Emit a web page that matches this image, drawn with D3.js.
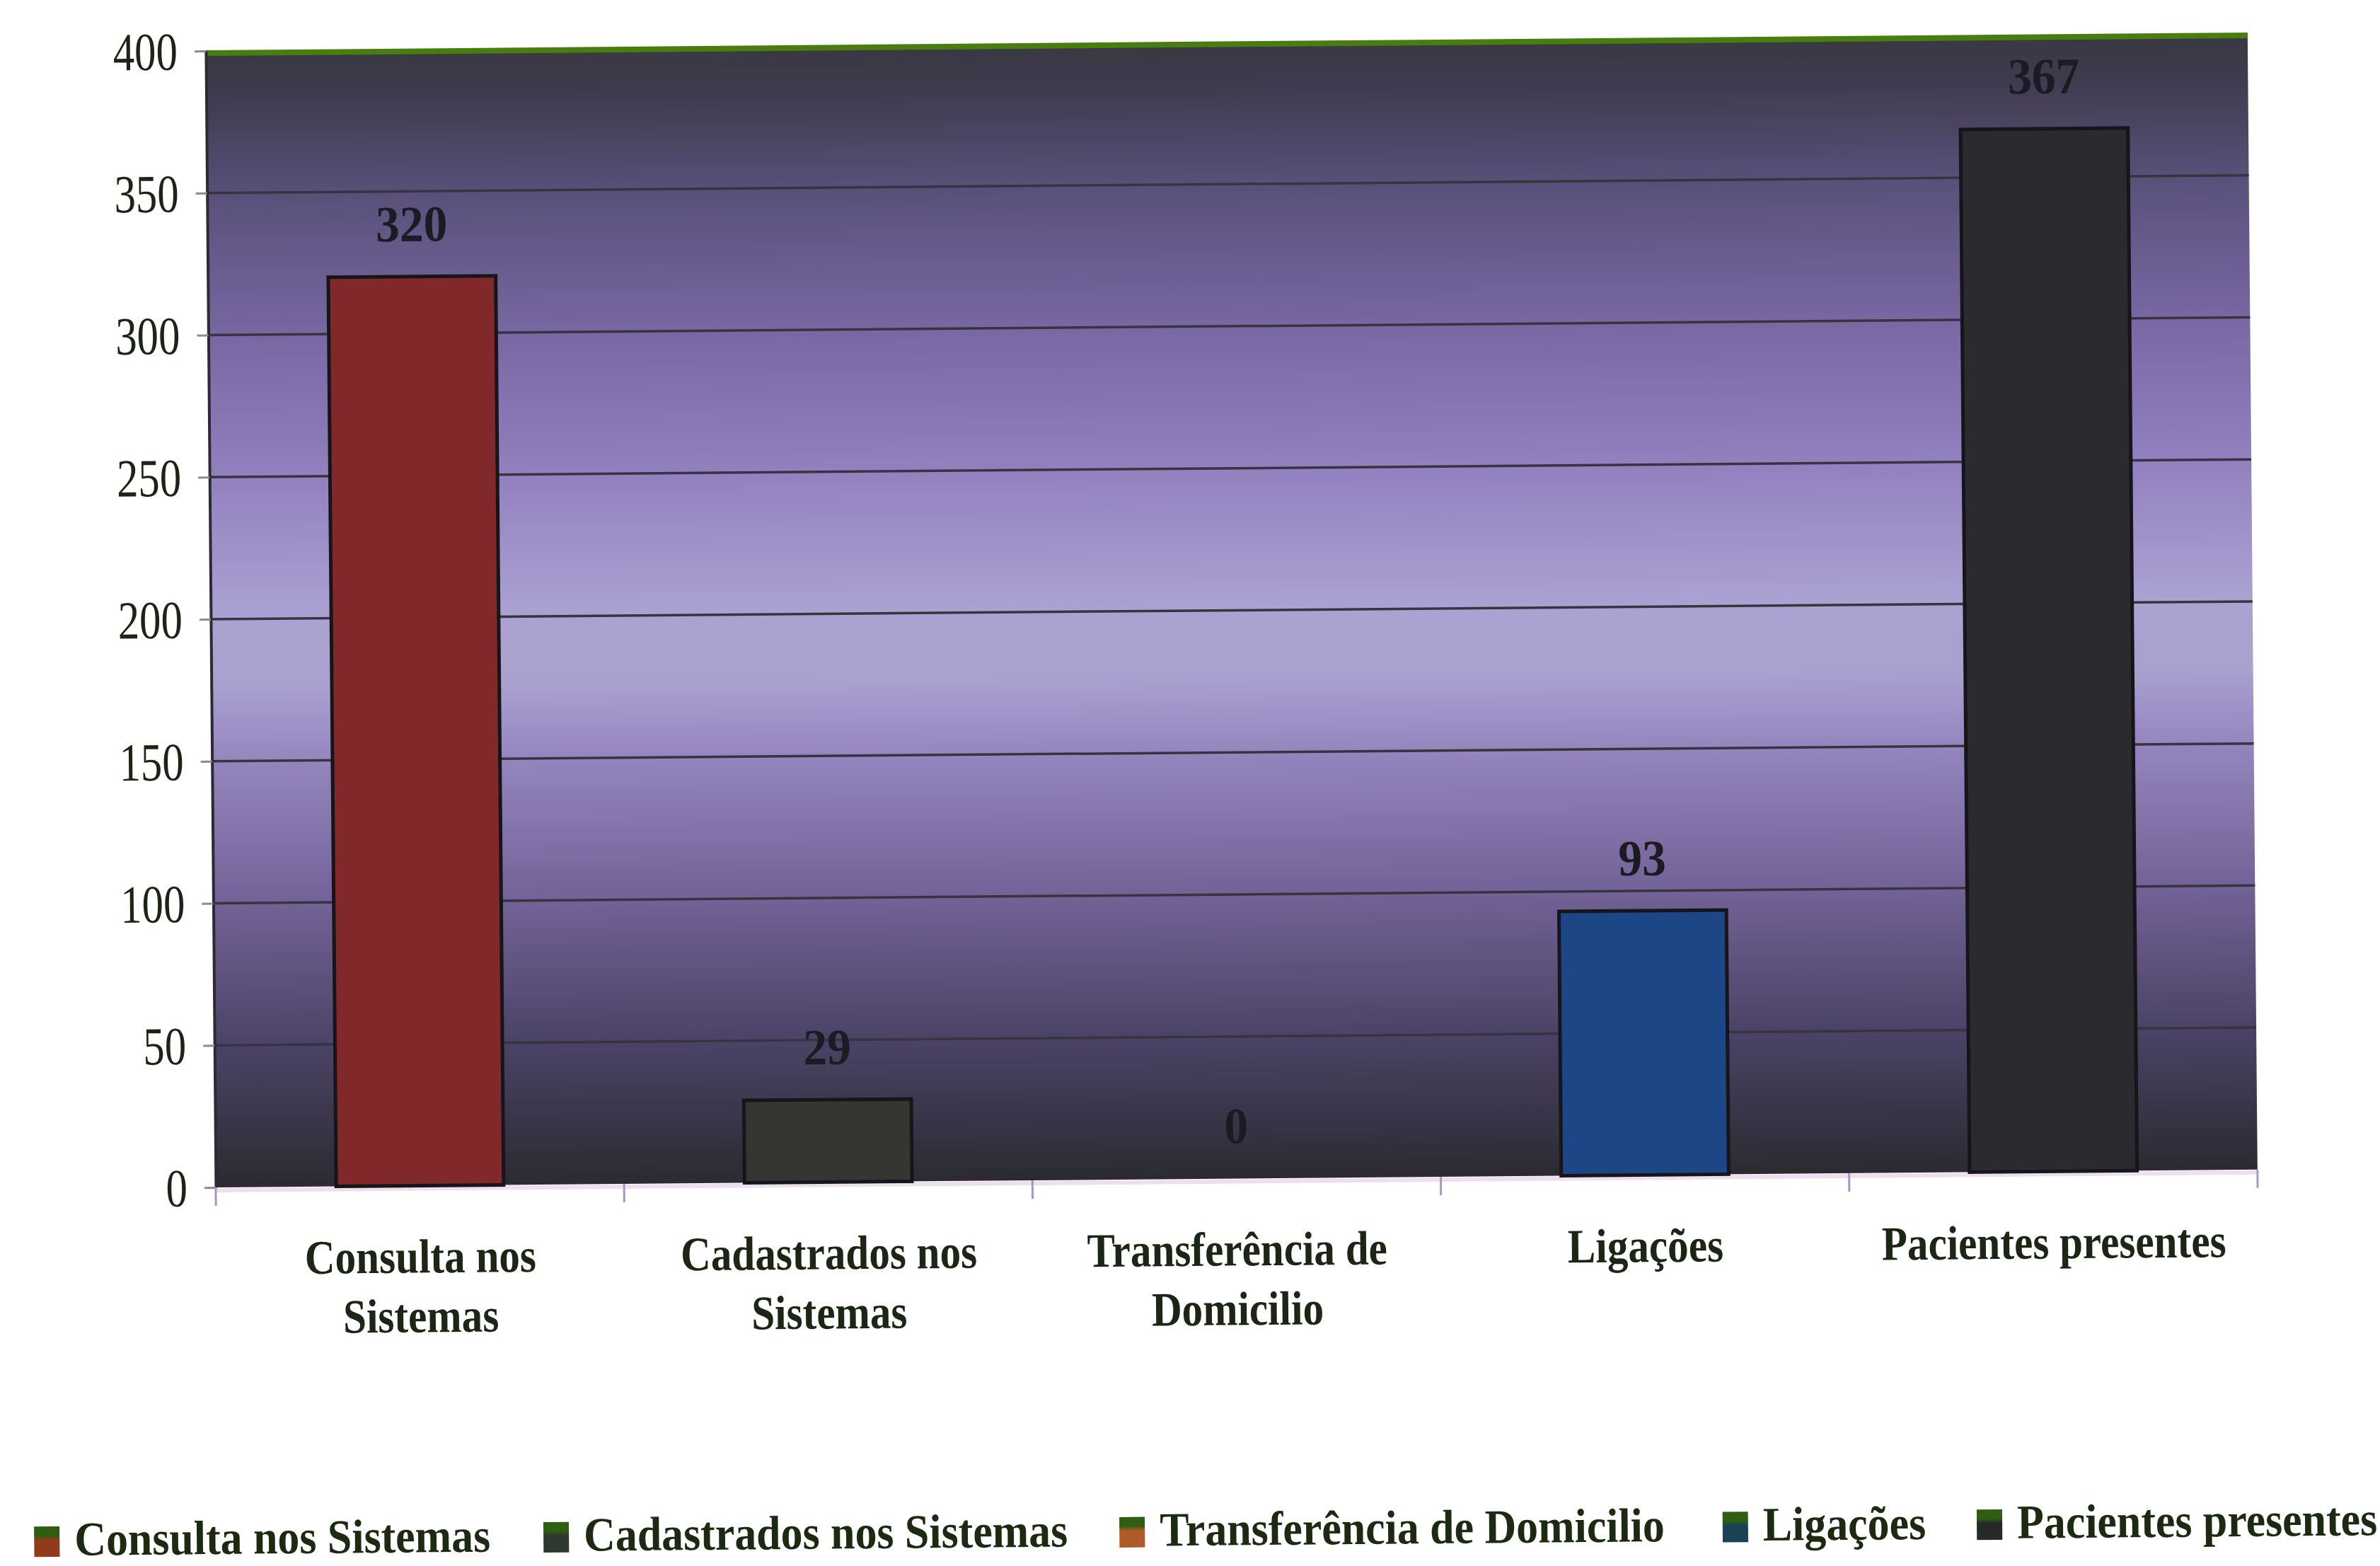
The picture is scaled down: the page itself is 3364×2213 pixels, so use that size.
<!DOCTYPE html>
<html><head><meta charset="utf-8">
<script src="https://cdn.jsdelivr.net/npm/d3@7"></script>
<style>html,body{margin:0;padding:0;background:#fff;} svg{display:block}</style>
</head><body>
<svg id="chart" width="3364" height="2213"></svg>
<script>
// ---- data ----
const categories = ["Consulta nos Sistemas", "Cadastrados nos Sistemas", "Transferência de Domicilio", "Ligações", "Pacientes presentes"];
const categoryLines = [["Consulta nos", "Sistemas"], ["Cadastrados nos", "Sistemas"], ["Transferência de", "Domicilio"], ["Ligações"], ["Pacientes presentes"]];
const values = [320, 29, 0, 93, 367];
const yTicks = [0, 50, 100, 150, 200, 250, 300, 350, 400];
const barColors = ["#80282a", "#343632", "#b0521e", "#1d4686", "#2a2a2f"];
const legendColors = ["#923a1e", "#2e3830", "#b05a28", "#1a4252", "#262a26"];

// ---- layout ----
const W = 3364, H = 2213;
const plot = {left: 300, right: 3186, top: 60, bottom: 1666};
const svg = d3.select("#chart");
const defs = svg.append("defs");

const bg = defs.append("linearGradient").attr("id", "bgGrad")
  .attr("x1", 0).attr("y1", 0).attr("x2", 0).attr("y2", 1);
[[0, "#393842"], [0.04, "#3f3b4e"], [0.125, "#585079"], [0.25, "#7867a2"], [0.375, "#9280bf"],
 [0.5, "#aba2d2"], [0.56, "#a9a0cf"], [0.625, "#9585bf"], [0.75, "#726296"], [0.875, "#4b4366"], [1, "#2b2a31"]]
  .forEach(([o, c]) => bg.append("stop").attr("offset", o).attr("stop-color", c));

legendColors.forEach((c, i) => {
  const g = defs.append("linearGradient").attr("id", "lg" + i).attr("x1", 0).attr("y1", 0).attr("x2", 0).attr("y2", 1);
  g.append("stop").attr("offset", 0).attr("stop-color", "#2f5e12");
  g.append("stop").attr("offset", 0.3).attr("stop-color", "#2f5e12");
  g.append("stop").attr("offset", 0.45).attr("stop-color", c);
  g.append("stop").attr("offset", 1).attr("stop-color", c);
});

const root = svg.append("g").attr("transform", `rotate(-0.5, ${W / 2}, ${H / 2})`);

const x = d3.scaleBand().domain(categories).range([plot.left, plot.right])
  .paddingInner(0.59).paddingOuter(0.295);
const y = d3.scaleLinear().domain([0, 400]).range([plot.bottom, plot.top]);

// plot background
root.append("rect").attr("x", plot.left).attr("y", plot.top)
  .attr("width", plot.right - plot.left).attr("height", plot.bottom - plot.top)
  .attr("fill", "url(#bgGrad)");

// gridlines
root.append("g").selectAll("line").data(yTicks.filter(t => t > 0 && t < 400)).join("line")
  .attr("x1", plot.left).attr("x2", plot.right)
  .attr("y1", d => y(d)).attr("y2", d => y(d))
  .attr("stroke", "#36343f").attr("stroke-width", 3.5);

// green top border
root.append("line").attr("x1", plot.left).attr("x2", plot.right)
  .attr("y1", plot.top + 3).attr("y2", plot.top + 3)
  .attr("stroke", "#4a7d10").attr("stroke-width", 8);

// left axis
const yAxis = root.append("g").attr("transform", `translate(${plot.left},0)`)
  .call(d3.axisLeft(y).tickValues(yTicks).tickSize(16).tickSizeOuter(0).tickFormat(d3.format("d")));
yAxis.select(".domain").attr("stroke", "#2c2b33").attr("stroke-width", 4);
yAxis.selectAll(".tick line").attr("stroke", "#8c8a92").attr("stroke-width", 3);
yAxis.selectAll(".tick text")
  .attr("x", null).attr("dy", "0.34em")
  .attr("transform", "translate(-40,0) scale(0.8,1)")
  .attr("text-anchor", "end")
  .attr("font-family", "'Liberation Serif', 'Times New Roman', serif")
  .attr("font-size", 76).attr("fill", "#1c2416");

// bottom axis: light line + boundary ticks
root.append("line").attr("x1", plot.left).attr("x2", plot.right)
  .attr("y1", plot.bottom + 4).attr("y2", plot.bottom + 4)
  .attr("stroke", "#ecdff0").attr("stroke-width", 6);
const bounds = categories.map(c => x(c) - x.step() * x.paddingInner() / 2).concat([plot.right]);
root.append("g").selectAll("line").data(bounds).join("line")
  .attr("x1", d => d).attr("x2", d => d)
  .attr("y1", plot.bottom).attr("y2", plot.bottom + 26)
  .attr("stroke", "#a496c8").attr("stroke-width", 3);

// bars
root.append("g").selectAll("rect").data(values).join("rect")
  .attr("x", (d, i) => x(categories[i]))
  .attr("y", d => y(d))
  .attr("width", x.bandwidth())
  .attr("height", d => y(0) - y(d))
  .attr("fill", (d, i) => barColors[i])
  .attr("stroke", (d) => d > 0 ? "#15151a" : "none")
  .attr("stroke-width", 5);

// value labels
root.append("g").selectAll("text").data(values).join("text")
  .attr("transform", (d, i) => `translate(${x(categories[i]) + x.bandwidth() / 2},${y(d) - 50}) scale(0.94,1)`)
  .attr("text-anchor", "middle")
  .attr("font-family", "'Liberation Serif', 'Times New Roman', serif")
  .attr("font-weight", "bold").attr("font-size", 72).attr("fill", "#1b1b24")
  .text(d => d);

// category labels
const catG = root.append("g");
categoryLines.forEach((lines, i) => {
  lines.forEach((t, j) => {
    catG.append("text")
      .attr("transform", `translate(${x(categories[i]) + x.bandwidth() / 2},${1789 + j * 84}) scale(0.87,1)`)
      .attr("text-anchor", "middle")
      .attr("font-family", "'Liberation Serif', 'Times New Roman', serif")
      .attr("font-weight", "bold").attr("font-size", 68).attr("fill", "#1c2614")
      .text(t);
  });
});

// legend
const leg = root.append("g");
let lx = 39;
const gaps = [75, 73, 82, 72, 0];
categories.forEach((c, i) => {
  leg.append("rect").attr("x", lx).attr("y", 2143).attr("width", 36).attr("height", 43)
    .attr("fill", `url(#lg${i})`);
  const t = leg.append("text")
    .attr("transform", `translate(${lx + 57},2184) scale(0.91,1)`)
    .attr("font-family", "'Liberation Serif', 'Times New Roman', serif")
    .attr("font-weight", "bold").attr("font-size", 68).attr("fill", "#1c2a12")
    .text(c);
  const w = t.node().getComputedTextLength() * 0.91;
  lx = lx + 57 + w + gaps[i];
});
</script>
</body></html>
